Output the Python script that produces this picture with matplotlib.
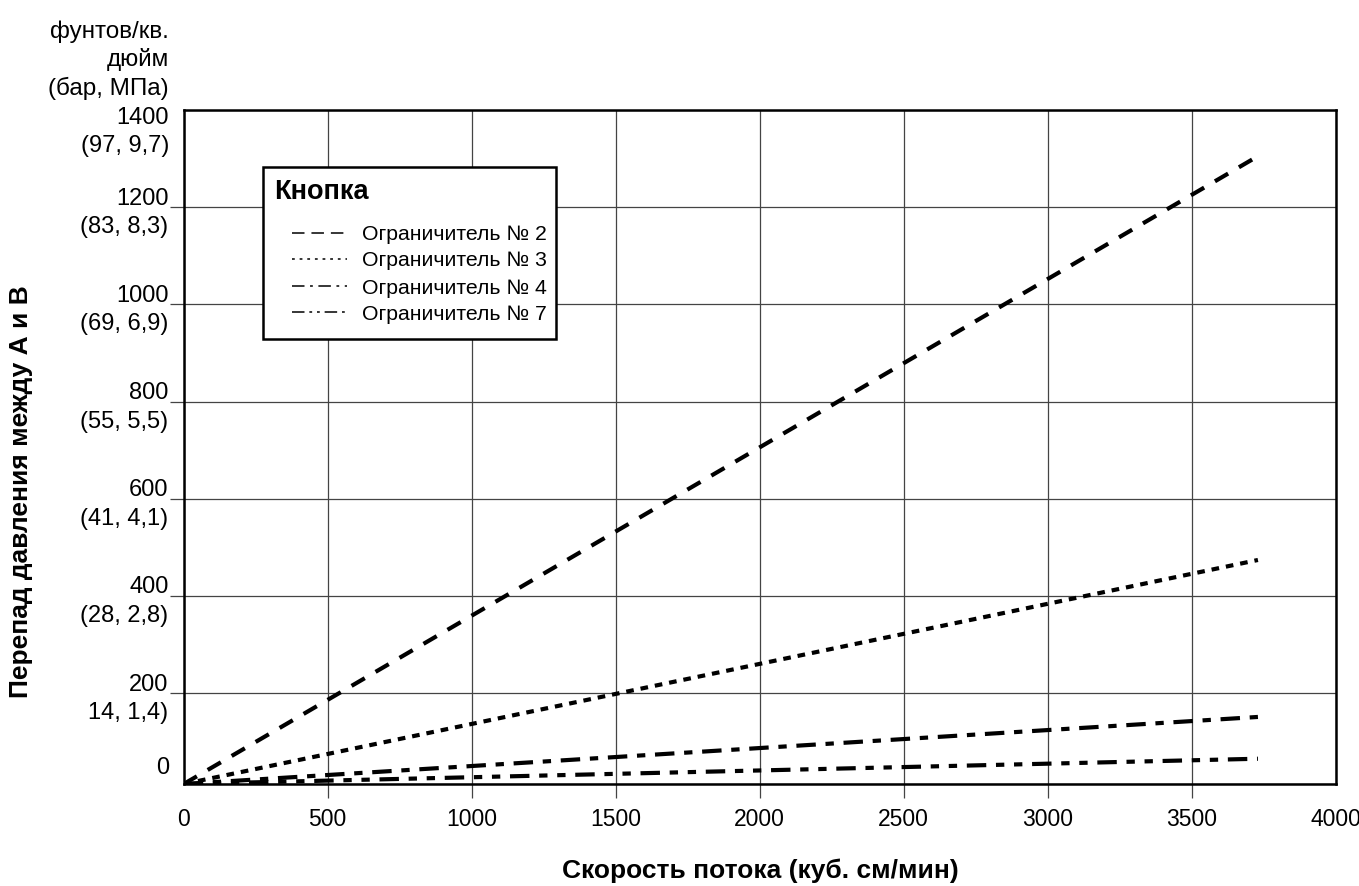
import matplotlib
matplotlib.use("Agg")
import matplotlib.pyplot as plt
from matplotlib.lines import Line2D
from matplotlib.patches import Rectangle

plt.rcParams['font.family'] = ['Liberation Sans', 'DejaVu Sans']
plt.rcParams['lines.scale_dashes'] = False

# Data
flow = [0, 3730]
restrictor_2 = [13, 1305]
restrictor_3 = [13, 474]
restrictor_4 = [13, 151]
restrictor_7 = [13, 65]
labels = ["Ограничитель № 2", "Ограничитель № 3", "Ограничитель № 4", "Ограничитель № 7"]

x_ticks = [0, 500, 1000, 1500, 2000, 2500, 3000, 3500, 4000]
y_ticks = [13, 200, 400, 600, 800, 1000, 1200, 1400]
y_tick_labels = ["0", "200\n14, 1,4)", "400\n(28, 2,8)", "600\n(41, 4,1)",
                 "800\n(55, 5,5)", "1000\n(69, 6,9)", "1200\n(83, 8,3)", "1400\n(97, 9,7)"]

W, H = 1359, 886
fig = plt.figure(figsize=(W/100, H/100), dpi=100)
ax = fig.add_axes([183.7/W, 1-784/H, (1335.7-183.7)/W, (784-110)/H])

def fx(px):
    return px / W

def fy(py):
    return 1 - py / H

styles = [
    (0, (11, 9)),
    (0, (5.5, 5)),
    (0, (14, 7, 6, 7)),
    (0, (14, 7, 6, 7, 6, 7)),
]
series = [restrictor_2, restrictor_3, restrictor_4, restrictor_7]
for s, ls in zip(series, styles):
    ax.plot(flow, s, color='black', lw=3.0, linestyle=ls, zorder=3, solid_capstyle='butt',
            dash_capstyle='butt', clip_on=True)

ax.set_xlim(0, 4000)
ax.set_ylim(13, 1400)
ax.set_xticks(x_ticks)
ax.set_xticklabels([str(v) for v in x_ticks])
ax.set_yticks(y_ticks)
# first and last y labels are drawn offset (as in the original), the rest sit on their ticks
ax.set_yticklabels([""] + y_tick_labels[1:-1] + [""], linespacing=1.38)
ax.grid(True, color='#444444', lw=0.9, zorder=1)
ax.tick_params(axis='both', direction='out', length=10, width=0.9, color='#444444')
ax.tick_params(axis='y', pad=1, labelsize=17)
ax.tick_params(axis='x', pad=7, labelsize=16.5)
for t in [ax.xaxis.get_major_ticks()[0], ax.xaxis.get_major_ticks()[-1],
          ax.yaxis.get_major_ticks()[0], ax.yaxis.get_major_ticks()[-1]]:
    t.tick1line.set_visible(False)
for sp in ax.spines.values():
    sp.set_linewidth(1.8)
    sp.set_zorder(4)

fig.text(fx(169), fy(768), y_tick_labels[0], ha='right', va='center', fontsize=17)
fig.text(fx(169), fy(132), y_tick_labels[-1], ha='right', va='center', fontsize=17,
         linespacing=1.38)

fig.text(fx(169), fy(60), "фунтов/кв.\nдюйм\n(бар, МПа)", ha='right', va='center',
         fontsize=17.5, linespacing=1.3)
fig.text(fx(760), fy(871), "Скорость потока (куб. см/мин)", ha='center', va='center',
         fontsize=19, fontweight='bold')
fig.text(fx(21), fy(492), "Перепад давления между А и В", ha='center', va='center',
         fontsize=19, fontweight='bold', rotation=90)

# Legend (drawn as a boxed key)
fig.add_artist(Rectangle((fx(263), fy(339)), fx(556) - fx(263), fy(167) - fy(339),
                         transform=fig.transFigure, facecolor='white', edgecolor='black',
                         lw=1.8, zorder=5))
fig.text(fx(274), fy(192), "Кнопка", ha='left', va='center', fontsize=19.5,
         fontweight='bold', zorder=6)
handle_styles = [(0, (9, 5)), (0, (2, 3.5)), (0, (9, 4, 2, 4)), (0, (9, 3.5, 2, 3.5, 2, 3.5))]
row_y = [233, 259, 286, 312]
for lab, ls, ry in zip(labels, handle_styles, row_y):
    fig.add_artist(Line2D([fx(292), fx(347)], [fy(ry), fy(ry)], transform=fig.transFigure,
                          color='black', lw=1.1, linestyle=ls, zorder=6))
    fig.text(fx(362), fy(ry + 2), lab, ha='left', va='center', fontsize=15.3, zorder=6)

fig.savefig("out.png", dpi=100)
